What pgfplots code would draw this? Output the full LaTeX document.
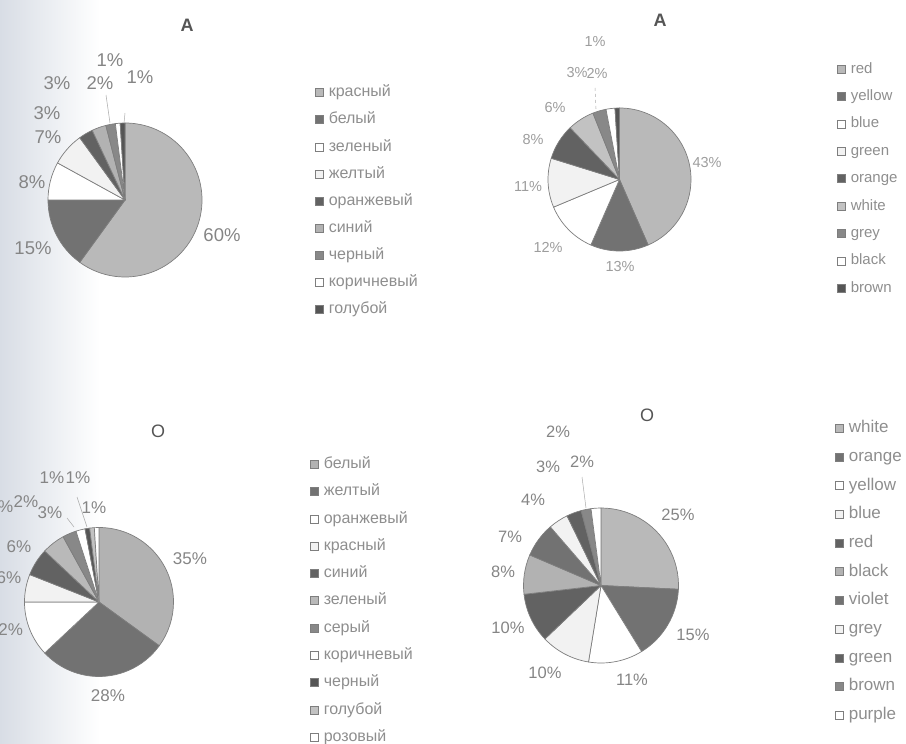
\documentclass[border=0pt]{standalone}
\usepackage{fontspec}
\setmainfont{Liberation Sans}
\usepackage{pgfplots}
\usepackage{pgfplotstable}
\pgfplotsset{compat=1.18}

% shades used for the sectors and legend keys
\definecolor{sLight}{HTML}{B9B9B9}
\definecolor{sLightB}{HTML}{B2B2B2}
\definecolor{sLightC}{HTML}{C2C2C2}
\definecolor{sDark}{HTML}{727272}
\definecolor{sDarkB}{HTML}{626262}
\definecolor{sDarkC}{HTML}{555555}
\definecolor{sMid}{HTML}{888888}
\definecolor{sVLight}{HTML}{F2F2F2}
\definecolor{sWhite}{HTML}{FFFFFF}
\definecolor{edgegray}{HTML}{7E7E7E}
\definecolor{txtgray}{HTML}{8E8E8E}
\definecolor{lblgray}{HTML}{858585}
\definecolor{titlegray}{HTML}{555555}
\definecolor{bgtint}{HTML}{D8DDE5}

% name, fill, value (%), label centre x, y
\pgfplotstableread{
name c v lx ly
красный sLight 60 222 235
белый sDark 15 33 248
зеленый sWhite 8 32 182
желтый sVLight 7 48 137
оранжевый sDarkB 3 47 113
синий sLightB 3 57 83
черный sMid 2 100 83
коричневый sWhite 1 110 60
голубой sDarkC 1 140 77
}\tabTL

\pgfplotstableread{
name c v lx ly
red sLight 43 707 163
yellow sDark 13 620 267
blue sWhite 12 548 247
green sVLight 11 528 187
orange sDarkB 8 533 140
white sLightC 6 555 108
grey sMid 3 577 73
black sWhite 2 597 73
brown sDarkC 1 595 42
}\tabTR

\pgfplotstableread{
name c v lx ly
белый sLightB 35 190 559
желтый sDark 28 108 696
оранжевый sWhite 12 6 630
красный sVLight 6 9 578
синий sDarkB 6 19 547
зеленый sLight 5 1 507
серый sMid 3 50 513
коричневый sWhite 2 26 502
черный sDarkC 1 52 478
голубой sLightC 1 78 478
розовый sWhite 1 94 508
}\tabBL

\pgfplotstableread{
name c v lx ly
white sLight 25 678 515
orange sDark 15 693 635
yellow sWhite 11 632 680
blue sVLight 10 545 673
red sDarkB 10 508 628
black sLightB 8 503 572
violet sDark 7 510 537
grey sVLight 4 533 500
green sDarkB 3 548 467
brown sMid 2 582 462
purple sWhite 2 558 432
}\tabBR

% #1 table, #2 centre x, #3 centre y, #4 radius, #5 label style
\newcommand\drawpie[5]{%
  \pgfplotstablegetrowsof{#1}%
  \pgfmathtruncatemacro\pielast{\pgfplotsretval-1}%
  \def\pietotal{0}%
  \pgfplotsforeachungrouped \pieidx in {0,...,\pielast}{%
    \pgfplotstablegetelem{\pieidx}{v}\of{#1}%
    \pgfmathsetmacro\pietotal{\pietotal+\pgfplotsretval}%
  }%
  \def\piecum{0}%
  \pgfplotsforeachungrouped \pieidx in {0,...,\pielast}{%
    \pgfplotstablegetelem{\pieidx}{v}\of{#1}\let\pv\pgfplotsretval
    \pgfplotstablegetelem{\pieidx}{c}\of{#1}\let\pc\pgfplotsretval
    \pgfplotstablegetelem{\pieidx}{lx}\of{#1}\let\plx\pgfplotsretval
    \pgfplotstablegetelem{\pieidx}{ly}\of{#1}\let\ply\pgfplotsretval
    \pgfplotstablegetelem{\pieidx}{name}\of{#1}\let\pn\pgfplotsretval
    \pgfmathsetmacro\pa{90-\piecum/\pietotal*360}%
    \pgfmathsetmacro\piecum{\piecum+\pv}%
    \pgfmathsetmacro\pb{90-\piecum/\pietotal*360}%
    \edef\piecmd{%
      \noexpand\filldraw[fill=\pc, draw=edgegray, line width=0.7pt, line join=round]
        (axis cs:#2,#3) -- ++(\pa:#4pt) arc[start angle=\pa, end angle=\pb, radius=#4pt] -- cycle;
      \noexpand\node[#5] at (axis cs:\plx,\ply) {\pv\noexpand\%};
      \noexpand\addlegendimage{fill=\pc}
      \noexpand\addlegendentry{\pn}
    }\piecmd
  }%
}

\pgfplotsset{
  pieframe/.style={
    at={(0,0)}, anchor=south west,
    scale only axis, width=906pt, height=744pt,
    xmin=0, xmax=906, ymin=0, ymax=744, y dir=reverse,
    hide axis, clip=false,
    legend cell align=left,
    legend image code/.code={\draw[##1, draw=edgegray, line width=0.6pt] (0pt,-4pt) rectangle (8pt,4pt);},
    legend style={draw=none, fill=none, inner sep=0pt, text=txtgray, column sep=5pt},
  },
}
\tikzset{
  lblA/.style={text=lblgray, font=\fontsize{18.5}{20}\selectfont, inner sep=0pt},
  lblB/.style={text=lblgray!80, font=\fontsize{14.5}{16}\selectfont, inner sep=0pt},
  lblC/.style={text=lblgray, font=\fontsize{17}{19}\selectfont, inner sep=0pt},
  lblD/.style={text=lblgray, font=\fontsize{16.5}{18}\selectfont, inner sep=0pt},
  ttl/.style={text=titlegray, inner sep=0pt},
  leader/.style={draw=lblgray!70, line width=0.5pt},
}

\begin{document}
\begin{tikzpicture}
\shade[left color=bgtint, right color=white] (0,0) rectangle (100pt,744pt);

% top left
\begin{axis}[pieframe,
  legend style={at={(axis cs:315,84.7)}, anchor=north west, row sep=11.5pt,
    font=\fontsize{16}{18}\selectfont,
    nodes={inner sep=0pt, text height=12pt, text depth=3.6pt}}]
  \drawpie{\tabTL}{125}{200}{77}{lblA}
  \node[ttl, font=\fontsize{18}{20}\selectfont\bfseries] at (axis cs:187,25) {A};
  \draw[leader] (axis cs:106,95) -- (axis cs:110,123);
  \draw[leader] (axis cs:125,113) -- (axis cs:124,123);
\end{axis}

% top right
\begin{axis}[pieframe,
  legend style={at={(axis cs:837,61.5)}, anchor=north west, row sep=12.4pt,
    font=\fontsize{15}{17}\selectfont,
    nodes={inner sep=0pt, text height=11.4pt, text depth=3.6pt}}]
  \drawpie{\tabTR}{619.5}{179.5}{71.5}{lblB}
  \node[ttl, font=\fontsize{18}{20}\selectfont\bfseries] at (axis cs:660,20) {A};
  \draw[leader, dashed] (axis cs:595,88) -- (axis cs:596,109);
\end{axis}

% bottom left
\begin{axis}[pieframe,
  legend style={at={(axis cs:310,456.2)}, anchor=north west, row sep=11.7pt,
    font=\fontsize{16}{18}\selectfont,
    nodes={inner sep=0pt, text height=12pt, text depth=3.6pt}}]
  \drawpie{\tabBL}{99}{602}{74.5}{lblC}
  \node[ttl, font=\fontsize{18}{20}\selectfont] at (axis cs:158,431) {O};
  \draw[leader] (axis cs:77,497) -- (axis cs:87,527);
  \draw[leader] (axis cs:67,518) -- (axis cs:74,527);
\end{axis}

% bottom right
\begin{axis}[pieframe,
  legend style={at={(axis cs:835,420)}, anchor=north west, row sep=12.7pt,
    font=\fontsize{17}{19}\selectfont,
    nodes={inner sep=0pt, text height=12.4pt, text depth=3.6pt}}]
  \drawpie{\tabBR}{601}{585.5}{77.5}{lblD}
  \node[ttl, font=\fontsize{18}{20}\selectfont] at (axis cs:647,415) {O};
  \draw[leader] (axis cs:582,477) -- (axis cs:586,508);
\end{axis}

\pgfresetboundingbox
\useasboundingbox (0,0) rectangle (906pt,744pt);
\end{tikzpicture}
\end{document}
